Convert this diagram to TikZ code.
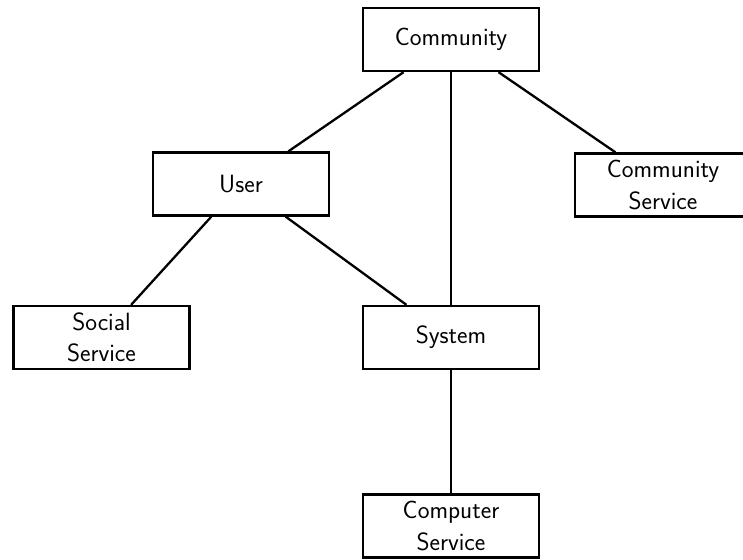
\documentclass[tikz,border=0pt]{standalone}
\begin{document}
\begin{tikzpicture}[x=1pt,y=-1pt,
  box/.style={draw,line width=2.3pt,minimum width=176pt,minimum height=63pt,
    inner sep=0pt,align=center,font=\sffamily\fontsize{25}{31.6}\selectfont},
  link/.style={line width=2.3pt}]
\useasboundingbox (0,0) rectangle (743,559);
\node[box] (community) at (451,39.5) {Community};
\node[box] (user) at (241,184) {User};
\node[box] (commsvc) at (663,185) {Community\\Service};
\node[box] (social) at (101.5,337.5) {Social\\Service};
\node[box] (system) at (451,337.5) {System};
\node[box] (computer) at (451,526) {Computer\\Service};
\draw[link] (community) -- (user);
\draw[link] (community) -- (commsvc);
\draw[link] (community) -- (system);
\draw[link] (user) -- (social);
\draw[link] (user) -- (system);
\draw[link] (system) -- (computer);
\end{tikzpicture}
\end{document}
